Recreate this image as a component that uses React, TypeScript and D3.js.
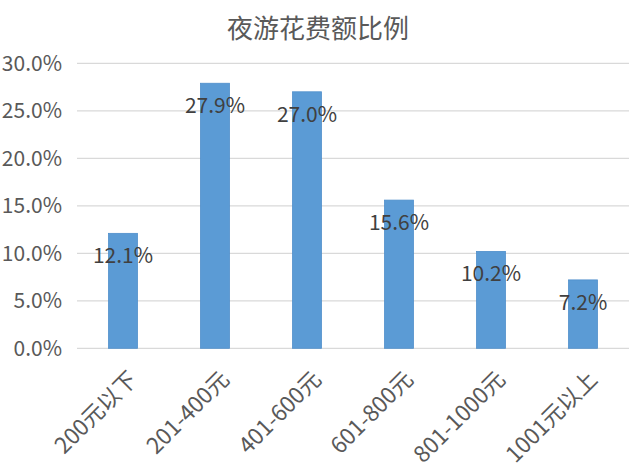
import React from "react";
import * as d3 from "d3";

const title = "夜游花费额比例";
const categories = ["200元以下", "201-400元", "401-600元", "601-800元", "801-1000元", "1001元以上"];
const values = [12.1, 27.9, 27.0, 15.6, 10.2, 7.2];
const yTicks = [0, 5, 10, 15, 20, 25, 30];

const W = 636, H = 470;
const left = 77, right = 629, top = 63.3, bottom = 348.3;
const font = "'Microsoft YaHei', 'Noto Sans CJK SC', sans-serif";

export default function App() {
  const x = d3.scaleBand<string>().domain(categories).range([left, right]).paddingInner(0.685).paddingOuter(0.3425);
  const y = d3.scaleLinear().domain([0, 30]).range([bottom, top]);
  return (
    <svg width={W} height={H} style={{ position: "absolute", left: 0, top: 0, background: "#fff" }} fontFamily={font}>
      <rect width={W} height={H} fill="#fff" />
      <text x={318} y={38} textAnchor="middle" fontSize={26} fill="#595959">{title}</text>
      {yTicks.map((t) => (
        <g key={t}>
          <line x1={left} x2={right} y1={y(t)} y2={y(t)} stroke="#d9d9d9" strokeWidth={1.2} />
          <text x={62} y={y(t)} dy="0.35em" textAnchor="end" fontSize={21} fill="#595959">{t.toFixed(1) + "%"}</text>
        </g>
      ))}
      {categories.map((c, i) => {
        const bx = x(c)!;
        const cx = bx + x.bandwidth() / 2;
        return (
          <g key={c}>
            <rect x={bx} y={y(values[i])} width={x.bandwidth()} height={bottom - y(values[i])} fill="#5b9bd5" stroke="#4f8fcb" strokeWidth={0.8} />
            <text x={cx} y={y(values[i]) + 30} textAnchor="middle" fontSize={21} fill="#404040">{values[i].toFixed(1) + "%"}</text>
            <text transform={`translate(${cx + 10},${bottom + 27}) rotate(-45)`} textAnchor="end" dy="0.35em" fontSize={22.5} fill="#595959">{c}</text>
          </g>
        );
      })}
    </svg>
  );
}
